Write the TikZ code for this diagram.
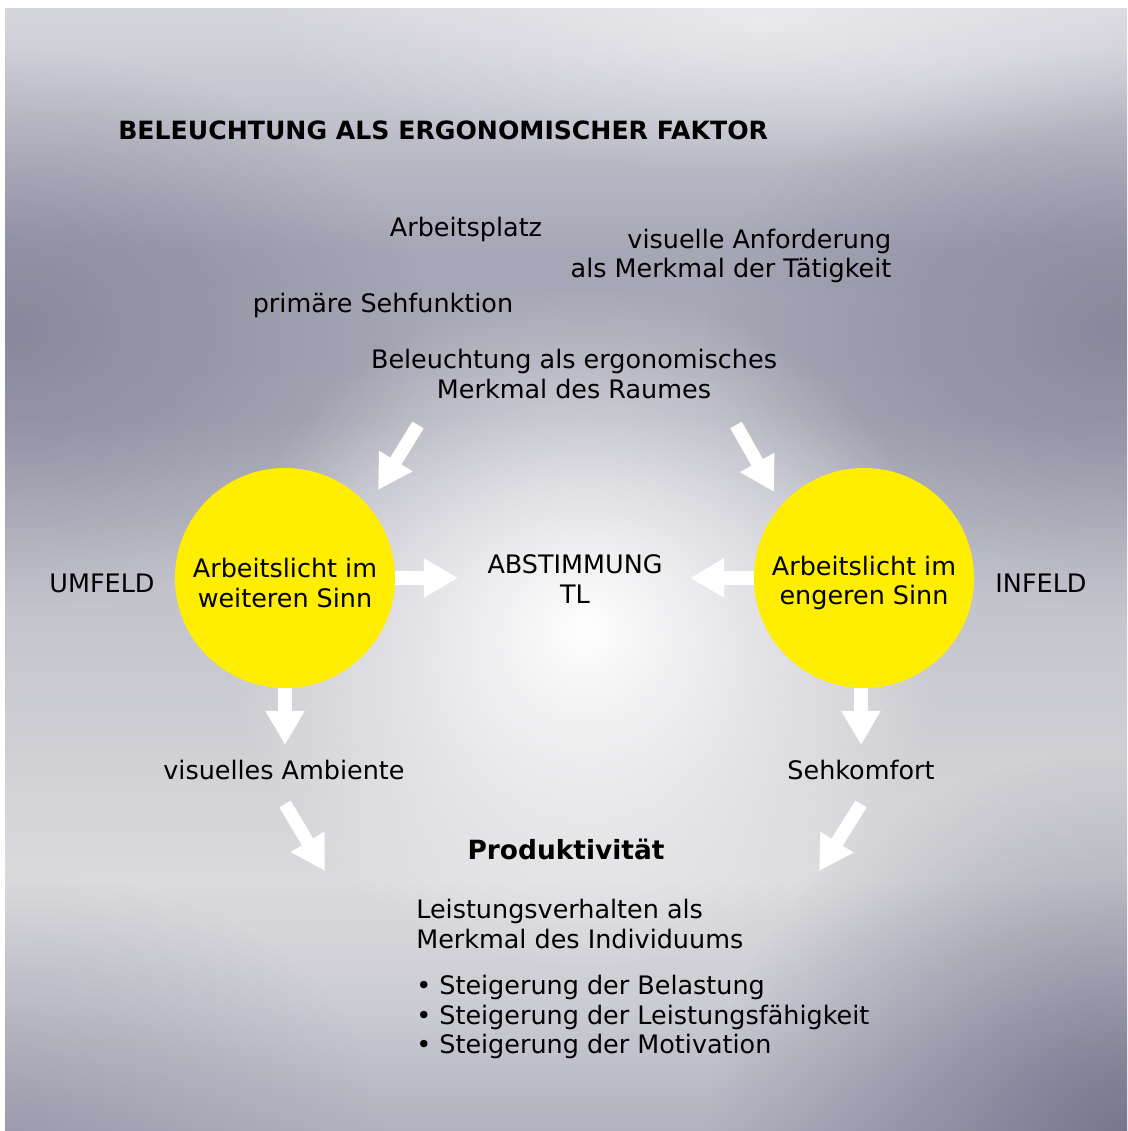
\documentclass[tikz,border=0pt]{standalone}
\usepackage{fontspec}
\setmainfont{DejaVu Sans}
\usetikzlibrary{arrows.meta,fadings}

\definecolor{sunyellow}{RGB}{255,238,0}
\definecolor{bgdark}{RGB}{112,112,136}
\definecolor{bgA}{RGB}{214,214,221}
\definecolor{bgB}{RGB}{200,200,210}
\definecolor{bgC}{RGB}{166,166,182}
\definecolor{bgD}{RGB}{168,168,182}
\definecolor{bgE}{RGB}{192,192,202}
\definecolor{bgF}{RGB}{208,208,213}
\definecolor{bgG}{RGB}{219,219,222}
\definecolor{bgH}{RGB}{204,204,212}
\definecolor{bgI}{RGB}{178,178,192}

% backdrop, bottom to top (25bp..75bp is the filled area)
\pgfdeclareverticalshading{backdrop}{100bp}{color(0bp)=(bgI); color(25bp)=(bgI);
  color(30.8bp)=(bgH); color(36.2bp)=(bgG); color(41.5bp)=(bgF);
  color(50.4bp)=(bgE); color(56.7bp)=(bgD); color(64.2bp)=(bgC);
  color(71.4bp)=(bgB); color(75bp)=(bgA); color(100bp)=(bgA)}

\tikzfading[name=glow, inner color=transparent!0, outer color=transparent!100]

\newcommand\txtsize{\fontsize{18.1}{21}\selectfont}

\tikzset{
  lbl/.style={inner sep=0pt, align=center, font=\txtsize},
  sun/.style={circle, fill=sunyellow, minimum size=5.5cm, inner sep=0pt},
  bigarrow/.style={white, line width=0.33cm,
    -{Triangle[length=0.85cm, width=0.92cm]}}
}

\begin{document}
\begin{tikzpicture}[x=0.025cm, y=-0.025cm]
  \useasboundingbox (0,0) rectangle (1127,1131);

  % background
  \shade[shading=backdrop] (5,8) rectangle (1127,1131);
  \begin{scope}
    \clip (5,8) rectangle (1127,1131);
    \fill[bgdark, opacity=0.55, path fading=glow] (5,330) ellipse (420 and 280);
    \fill[bgdark, opacity=0.55, path fading=glow] (1127,330) ellipse (420 and 280);
    \fill[bgdark, opacity=0.35, path fading=glow] (5,1131) ellipse (380 and 260);
    \fill[bgdark, opacity=0.9, path fading=glow] (1127,1131) ellipse (420 and 380);
    \fill[white, opacity=0.5, path fading=glow] (760,20) ellipse (500 and 150);
    \fill[white, path fading=glow] (585,630) ellipse (360 and 340);
  \end{scope}

  \node[anchor=west, inner sep=0pt, font=\bfseries\fontsize{17.9}{21}\selectfont]
    (title) at (118,130) {BELEUCHTUNG ALS ERGONOMISCHER FAKTOR};

  \node[lbl] (platz) at (466,229) {Arbeitsplatz};
  \node[lbl, align=right] (anford) at (731,256) {visuelle Anforderung\\als Merkmal der Tätigkeit};
  \node[lbl] (sehfkt) at (383,305) {primäre Sehfunktion};
  \node[lbl] (raum) at (574,374) {Beleuchtung als ergonomisches\\Merkmal des Raumes};

  \node[sun] (weit) at (285,578) {};
  \node[sun] (eng) at (864,578) {};
  \node[lbl] (weittxt) at (285,583) {Arbeitslicht im\\weiteren Sinn};
  \node[lbl] (engtxt) at (864,583) {Arbeitslicht im\\engeren Sinn};
  \node[lbl] (umfeld) at (102,583) {UMFELD};
  \node[lbl] (infeld) at (1041,583) {INFELD};
  \node[lbl] (abst) at (575,579) {ABSTIMMUNG\\TL};

  \node[lbl] (ambiente) at (284,770) {visuelles Ambiente};
  \node[lbl] (komfort) at (861,770) {Sehkomfort};
  \node[inner sep=0pt, font=\bfseries\fontsize{18.8}{21}\selectfont]
    (prod) at (566,849) {Produktivität};
  \node[lbl, anchor=west, align=left] (indiv) at (416,924)
    {Leistungsverhalten als\\Merkmal des Individuums};
  \node[lbl, anchor=west, align=left] (steig) at (416,1017)
    {• Steigerung der Belastung\\• Steigerung der Leistungsfähigkeit\\• Steigerung der Motivation};

  % free ends of the arrows
  \coordinate (inL) at (418,425);
  \coordinate (inLtip) at (378,490);
  \coordinate (inR) at (736,425);
  \coordinate (inRtip) at (774,492);
  \coordinate (midL) at (458,578);
  \coordinate (midR) at (690,578);
  \coordinate (downL) at (285,745);
  \coordinate (downR) at (861,745);
  \coordinate (outL) at (285,804);
  \coordinate (outLtip) at (325,871);
  \coordinate (outR) at (861,804);
  \coordinate (outRtip) at (819,871);

  \draw[bigarrow] (inL) -- (inLtip);
  \draw[bigarrow] (inR) -- (inRtip);
  \draw[bigarrow] (weit.east) -- (midL);
  \draw[bigarrow] (eng.west) -- (midR);
  \draw[bigarrow] (weit.south) -- (downL);
  \draw[bigarrow] (eng.south -| downR) -- (downR);
  \draw[bigarrow] (outL) -- (outLtip);
  \draw[bigarrow] (outR) -- (outRtip);
\end{tikzpicture}
\end{document}
